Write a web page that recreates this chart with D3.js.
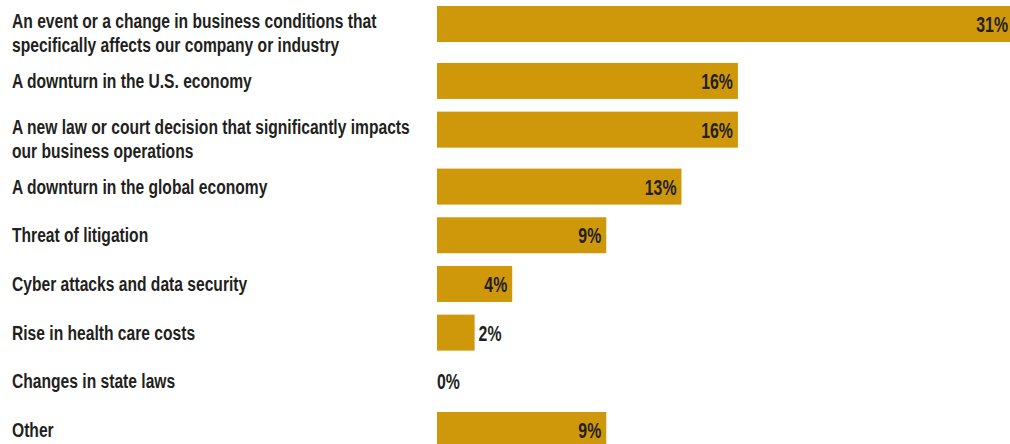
<!DOCTYPE html>
<html>
<head>
<meta charset="utf-8">
<script src="https://cdn.jsdelivr.net/npm/d3@7"></script>
<style>
  html, body { margin: 0; padding: 0; background: #fff; }
  svg { display: block; }
  .lbl, .val {
    font-family: "Liberation Sans", Arial, sans-serif;
    font-weight: bold;
    fill: #231f20;
  }
</style>
</head>
<body>
<svg id="chart" width="1010" height="444"></svg>
<script>
// Survey responses: share of companies naming each risk
const categories = [
  "An event or a change in business conditions that specifically affects our company or industry",
  "A downturn in the U.S. economy",
  "A new law or court decision that significantly impacts our business operations",
  "A downturn in the global economy",
  "Threat of litigation",
  "Cyber attacks and data security",
  "Rise in health care costs",
  "Changes in state laws",
  "Other"
];
const values = [31, 16, 16, 13, 9, 4, 2, 0, 9];
const valueLabels = ["31%", "16%", "16%", "13%", "9%", "4%", "2%", "0%", "9%"];

const W = 1010, H = 444;
const svg = d3.select("#chart");

const barLeft = 437;
const x = d3.scaleLinear().domain([0, 31]).range([barLeft, 1020]);

// Condensed look: regular bold face squeezed horizontally
const labelX = 12;
const labelWidth = 412;
const labelSize = 20.5;
const labelSqueeze = 0.762;
const lineGap = 24;
const barH = 36;
const valSize = 22;
const valSqueeze = 0.72;

// Wrap category names into lines that fit the label column
const measurer = svg.append("text").attr("class", "lbl").style("font-size", labelSize + "px");
function wrap(str) {
  const words = str.split(" ");
  const lines = [];
  let cur = "";
  for (const w of words) {
    const test = cur ? cur + " " + w : w;
    measurer.text(test);
    if (measurer.node().getComputedTextLength() * labelSqueeze > labelWidth && cur) {
      lines.push(cur);
      cur = w;
    } else cur = test;
  }
  if (cur) lines.push(cur);
  return lines;
}
const wrapped = categories.map(wrap);
measurer.remove();

// Rows with wrapped labels get a little extra vertical room
const extraPerLine = 0.17;
const offsets = [];
let acc = 0;
wrapped.forEach(lines => {
  offsets.push(acc);
  acc += 1 + extraPerLine * (lines.length - 1);
});
const y = d3.scaleLinear().domain([0, offsets[offsets.length - 1]]).range([6, 412]);

const rows = categories.map((c, i) => ({
  cat: c, value: values[i], label: valueLabels[i], lines: wrapped[i], top: y(offsets[i])
}));

const g = svg.append("g");

// Bars
g.selectAll("rect.bar")
  .data(rows.filter(d => d.value > 0))
  .join("rect")
  .attr("class", "bar")
  .attr("x", x(0))
  .attr("y", d => d.top)
  .attr("width", d => x(d.value) - x(0))
  .attr("height", barH)
  .attr("fill", "#cf980b");

// Category labels
const lbl = g.selectAll("text.lbl")
  .data(rows)
  .join("text")
  .attr("class", "lbl")
  .style("font-size", labelSize + "px")
  .attr("transform", d => {
    const base = d.lines.length > 1 ? d.top + 22 : d.top + 25;
    return `translate(${labelX},${base}) scale(${labelSqueeze},1)`;
  });
lbl.selectAll("tspan")
  .data(d => d.lines)
  .join("tspan")
  .attr("x", 0)
  .attr("dy", (d, i) => i === 0 ? 0 : lineGap)
  .text(d => d);

// Value labels: inside the bar when it fits, otherwise just past its end
const vals = g.selectAll("text.val")
  .data(rows)
  .join("text")
  .attr("class", "val")
  .style("font-size", valSize + "px")
  .attr("dy", "0.36em")
  .text(d => d.label);
vals.each(function(d) {
  const wText = this.getComputedTextLength() * valSqueeze;
  const barW = x(d.value) - x(0);
  const cy = d.top + barH / 2;
  const t = d3.select(this);
  let left;
  if (barW > wText + 18) {
    left = Math.min(x(d.value) - 5, W - 2) - wText;
  } else {
    left = d.value > 0 ? x(d.value) + 4 : x(0);
  }
  t.attr("transform", `translate(${left},${cy}) scale(${valSqueeze},1)`);
});
</script>
</body>
</html>
